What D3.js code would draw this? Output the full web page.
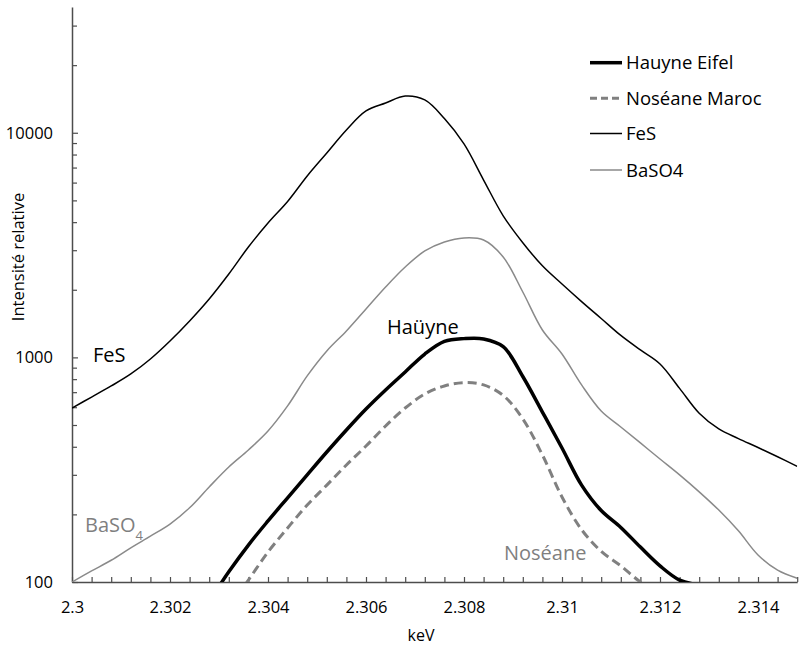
<!DOCTYPE html>
<html>
<head>
<meta charset="utf-8">
<script src="https://cdn.jsdelivr.net/npm/d3@7"></script>
<style>
  html, body { margin: 0; padding: 0; background: #fff; }
  svg { display: block; font-family: "Open Sans", sans-serif; }
</style>
</head>
<body>
<svg id="chart" width="801" height="645"></svg>
<script>
// ---- data ----
const keV = [2.3,2.3004,2.3008,2.3012,2.3016,2.302,2.3024,2.3028,2.3032,2.3036,2.304,2.3044,2.3048,2.3052,2.3056,2.306,2.3064,2.3068,2.3072,2.3076,2.308,2.3084,2.3088,2.3092,2.3096,2.31,2.3104,2.3108,2.3112,2.3116,2.312,2.3124,2.3128,2.3132,2.3136,2.314,2.3144,2.3148];

const hauyneEifel = [null,null,null,null,null,null,null,82,111,146,187,237,300,379,475,589,716,861,1035,1178,1212,1208,1116,822,571,395,270,208,175,143,118,102,97,null,null,null,null,null];
const noseaneMaroc = [null,null,null,null,null,null,null,null,77,102,136,174,220,270,332,403,495,595,687,746,772,754,677,532,368,239,171,137,118,100,88,null,null,null,null,null,null,null];
const fes = [595,666,746,844,984,1183,1453,1820,2351,3100,3966,4944,6423,8130,10290,12502,13570,14580,14000,11570,8920,6160,4270,3241,2557,2122,1772,1490,1252,1079,935,728,564,480,435,397,361,327];
const baso4 = [100,112,125,142,160,181,214,265,325,387,470,608,827,1068,1311,1643,2058,2526,2977,3265,3401,3332,2799,1955,1324,1035,754,577,490,416,353,300,252,209,169,132,113,104];

const seriesNames = ["Hauyne Eifel", "Noséane Maroc", "FeS", "BaSO4"];
const xLabelValues = [2.3, 2.302, 2.304, 2.306, 2.308, 2.31, 2.312, 2.314];
const xLabelTexts = ["2.3", "2.302", "2.304", "2.306", "2.308", "2.31", "2.312", "2.314"];
const yMajor = [100, 1000, 10000];
const yMajorTexts = ["100", "1000", "10000"];
const yMinor = [200,300,400,500,600,700,800,900,2000,3000,4000,5000,6000,7000,8000,9000,20000,30000];
const xTitle = "keV";
const yTitle = "Intensité relative";

// ---- layout ----
const svg = d3.select("#chart");
const L = 72, R = 797.2, T = 7, B = 582;
const x = d3.scaleLinear().domain([2.3, 2.3148]).range([L, R]);
const y = d3.scaleLog().domain([100, 36300]).range([B, T]);

svg.append("defs").append("clipPath").attr("id", "plotClip")
  .append("rect").attr("x", L).attr("y", T).attr("width", R - L).attr("height", B - T);

const axisColor = "#4d4d4d";

// x axis
const xAxis = d3.axisBottom(x).tickValues(keV).tickSize(-5).tickSizeOuter(0).tickPadding(19)
  .tickFormat(v => {
    const i = xLabelValues.findIndex(t => Math.abs(t - v) < 1e-9);
    return i >= 0 ? xLabelTexts[i] : "";
  });
const gx = svg.append("g").attr("transform", `translate(0,${B})`).call(xAxis);
gx.select(".domain").attr("stroke", axisColor).attr("stroke-width", 1.5);
gx.selectAll(".tick line").attr("stroke", axisColor).attr("stroke-width", 1.2);
gx.selectAll(".tick text").attr("fill", "#000").style("font-size", "16.5px").style("font-family", "'Open Sans', sans-serif");

// y axis
const yAxis = d3.axisLeft(y).tickValues(yMajor.concat(yMinor)).tickSize(-5).tickSizeOuter(0).tickPadding(19)
  .tickFormat(v => {
    const i = yMajor.indexOf(v);
    return i >= 0 ? yMajorTexts[i] : "";
  });
const gy = svg.append("g").attr("transform", `translate(${L},0)`).call(yAxis);
gy.select(".domain").attr("stroke", axisColor).attr("stroke-width", 1.5);
gy.selectAll(".tick line").attr("stroke", axisColor).attr("stroke-width", 1.2)
  .attr("x2", v => yMajor.includes(v) ? 6 : 5);
gy.selectAll(".tick text").attr("fill", "#000").style("font-size", "16.5px").style("font-family", "'Open Sans', sans-serif");

// titles
svg.append("text").attr("x", 421).attr("y", 641).attr("text-anchor", "middle")
  .style("font-size", "16px").attr("fill", "#000").text(xTitle);
svg.append("text").attr("transform", "translate(24,257) rotate(-90)").attr("text-anchor", "middle")
  .style("font-size", "16.5px").attr("fill", "#000").text(yTitle);

// series
const styles = [
  { data: hauyneEifel, stroke: "#000", width: 3.5, dash: null },
  { data: noseaneMaroc, stroke: "#808080", width: 3, dash: "9,5" },
  { data: fes, stroke: "#000", width: 1.5, dash: null },
  { data: baso4, stroke: "#8a8a8a", width: 1.5, dash: null }
];
const line = d3.line()
  .defined(d => d[1] != null)
  .x(d => x(d[0]))
  .y(d => y(d[1]))
  .curve(d3.curveCatmullRom.alpha(0.5));

const gPlot = svg.append("g").attr("clip-path", "url(#plotClip)");
styles.forEach(s => {
  const pts = keV.map((k, i) => [k, s.data[i]]);
  gPlot.append("path")
    .attr("d", line(pts))
    .attr("fill", "none")
    .attr("stroke", s.stroke)
    .attr("stroke-width", s.width)
    .attr("stroke-dasharray", s.dash)
    .attr("stroke-linejoin", "round");
});

// legend
const legY = [62.7, 98.3, 133.5, 170];
const gl = svg.append("g");
seriesNames.forEach((name, i) => {
  const s = styles[i];
  gl.append("line").attr("x1", 590).attr("x2", 622).attr("y1", legY[i]).attr("y2", legY[i])
    .attr("stroke", s.stroke).attr("stroke-width", s.width).attr("stroke-dasharray", s.dash ? "7,4" : null);
  gl.append("text").attr("x", 626).attr("y", legY[i] + 6.6)
    .style("font-size", "18.5px").attr("fill", "#000").text(name);
});

// annotations
svg.append("text").attr("x", 93).attr("y", 362).style("font-size", "20px").attr("fill", "#000").text("FeS");
svg.append("text").attr("x", 387).attr("y", 334).style("font-size", "20px").attr("fill", "#000").text("Haüyne");
svg.append("text").attr("x", 504).attr("y", 560).style("font-size", "20px").attr("fill", "#7f7f7f").text("Noséane");
const ba = svg.append("text").attr("x", 85).attr("y", 532).style("font-size", "20px").attr("fill", "#7f7f7f");
ba.append("tspan").text("BaSO");
ba.append("tspan").attr("dy", 8).style("font-size", "13px").text("4");
</script>
</body>
</html>
